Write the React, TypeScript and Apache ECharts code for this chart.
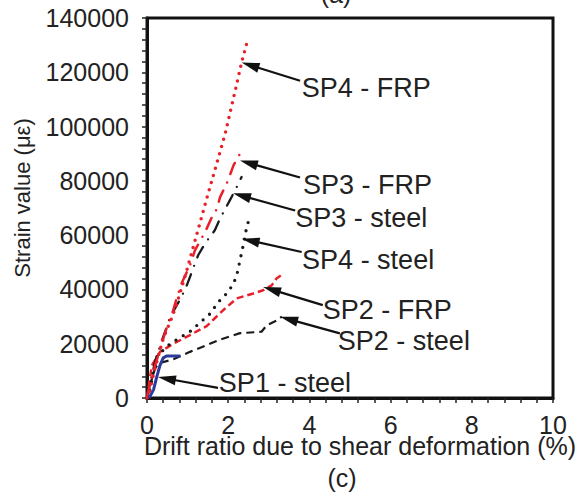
import React, { useEffect, useRef } from "react";
import * as echarts from "echarts";

const FONT = '"Liberation Sans", Arial, Helvetica, sans-serif';

// Axis ticks
const xTicks = [0, 2, 4, 6, 8, 10];
const yTicks = [0, 20000, 40000, 60000, 80000, 100000, 120000, 140000];

// Series data: [drift ratio (%), strain (με)]
const sp4Frp: number[][] = [
  [0, 0], [0.07, 3000], [0.2, 11000], [0.4, 22000], [0.61, 29500], [0.73, 34500],
  [0.98, 47000], [1.22, 60000], [1.5, 75000], [1.92, 97000], [2.2, 115000],
  [2.33, 123600], [2.49, 132500],
];
const sp3Frp: number[][] = [
  [0, 0], [0.05, 4000], [0.2, 12000], [0.49, 26200], [0.61, 30500], [0.73, 36700],
  [0.85, 42200], [1.06, 48900], [1.18, 54400], [1.43, 61100], [1.59, 66400],
  [1.72, 69700], [1.8, 74000], [1.96, 78900], [2.04, 82000], [2.13, 85700], [2.33, 91000],
];
const sp3Steel: number[][] = [
  [0, 0], [0.1, 7000], [0.2, 13500], [0.35, 20500], [0.49, 26200], [0.57, 29900],
  [0.85, 37200], [0.98, 41500], [1.26, 52600], [1.43, 56900], [1.67, 61800],
  [1.8, 66100], [2.04, 72800], [2.21, 77700], [2.33, 81400],
];
const sp4Steel: number[][] = [
  [0, 0], [0.07, 3000], [0.15, 9000], [0.25, 15500], [0.57, 20000], [1.06, 24500],
  [1.55, 31000], [1.76, 35400], [2.0, 39100], [2.13, 42200], [2.21, 45200],
  [2.29, 50700], [2.41, 59000], [2.46, 63600], [2.54, 66400],
];
const sp2Frp: number[][] = [
  [0, 0], [0.05, 5000], [0.12, 12000], [0.32, 17000], [0.65, 20000], [1.06, 23200],
  [1.47, 26500], [1.88, 32400], [2.21, 36700], [2.62, 38500], [2.86, 39700],
  [3.07, 41500], [3.19, 44000], [3.36, 45800],
];
const sp2Steel: number[][] = [
  [0, 0], [0.1, 6000], [0.2, 11000], [0.3, 12800], [0.65, 14300], [1.06, 17000],
  [1.47, 19500], [1.8, 21500], [2.29, 23900], [2.82, 24400], [2.95, 26800],
  [3.19, 28500], [3.32, 30000],
];
const sp1Steel: number[][] = [
  [0.05, 0], [0.16, 3000], [0.24, 7800], [0.32, 12000], [0.4, 14800], [0.49, 15500], [0.82, 15500],
];

// Annotation labels, with arrow tip / tail and text anchor in data coordinates
const annLabels = ["SP4 - FRP", "SP3 - FRP", "SP3 - steel", "SP4 - steel", "SP2 - FRP", "SP2 - steel", "SP1 - steel"];
const annTips: number[][] = [
  [2.33, 123600], [2.29, 87500], [2.12, 75400], [2.33, 58700], [2.86, 40900], [3.28, 29900], [0.27, 7700],
];
const annTails: number[][] = [
  [3.77, 116900], [3.77, 81250], [3.65, 69100], [3.81, 53800], [4.33, 34200], [4.75, 23800], [1.75, 3700],
];
const annTexts: number[][] = [
  [3.81, 114300], [3.84, 78300], [3.65, 66200], [3.82, 50700], [4.33, 32400], [4.70, 21000], [1.77, 5500],
];

const RED = "#e8202a";
const BLACK = "#1a1a1a";
const BLUE = "#2b3a9c";

export default function App() {
  const ref = useRef<HTMLDivElement>(null);

  useEffect(() => {
    if (!ref.current) return;
    const chart = echarts.init(ref.current, undefined, { renderer: "svg" });

    const line = (name: string, data: number[][], color: string, width: number, type: any, cap: any = "butt") => ({
      name,
      type: "line",
      data,
      showSymbol: false,
      symbol: "none",
      smooth: false,
      lineStyle: { color, width, type, cap, join: "round" },
      z: 3,
    });

    const axisLabelStyle = {
      color: "#222",
      fontSize: 25,
      fontFamily: FONT,
      formatter: (v: number) => String(v),
    };

    chart.setOption({
      animation: false,
      backgroundColor: "#fff",
      grid: {
        left: 147, right: 23, top: 18, bottom: 96,
        show: true, borderColor: "#111", borderWidth: 3, backgroundColor: "transparent",
      },
      xAxis: {
        type: "value",
        min: xTicks[0],
        max: xTicks[xTicks.length - 1],
        interval: xTicks[1] - xTicks[0],
        axisLine: { show: true, onZero: false, lineStyle: { color: "#111", width: 3 } },
        axisTick: { show: true, inside: false, length: 5, lineStyle: { color: "#222", width: 1.5 } },
        minorTick: { show: true, splitNumber: 5, length: 5, lineStyle: { color: "#222", width: 1.5 } },
        splitLine: { show: false },
        axisLabel: { ...axisLabelStyle, margin: 14 },
      },
      yAxis: {
        type: "value",
        min: yTicks[0],
        max: yTicks[yTicks.length - 1],
        interval: yTicks[1] - yTicks[0],
        axisLine: { show: true, onZero: false, lineStyle: { color: "#111", width: 3 } },
        axisTick: { show: true, inside: false, length: 5, lineStyle: { color: "#222", width: 1.5 } },
        minorTick: { show: true, splitNumber: 5, length: 5, lineStyle: { color: "#222", width: 1.5 } },
        splitLine: { show: false },
        axisLabel: { ...axisLabelStyle, margin: 18 },
      },
      series: [
        line("SP2 - steel", sp2Steel, BLACK, 2.2, [8, 5]),
        line("SP2 - FRP", sp2Frp, RED, 2.5, [7, 4]),
        line("SP4 - steel", sp4Steel, BLACK, 3.3, [0, 8.5], "round"),
        line("SP3 - steel", sp3Steel, BLACK, 2.3, [12, 9, 0, 9], "round"),
        line("SP3 - FRP", sp3Frp, RED, 2.5, [12, 9, 0, 9], "round"),
        line("SP4 - FRP", sp4Frp, RED, 3.5, [0, 7.5], "round"),
        line("SP1 - steel", sp1Steel, BLUE, 3, "solid"),
      ],
    });

    const toPx = (p: number[]) => chart.convertToPixel({ gridIndex: 0 }, p) as number[];
    const graphics: any[] = [];
    annLabels.forEach((label, i) => {
      const tip = toPx(annTips[i]);
      const tail = toPx(annTails[i]);
      const tp = toPx(annTexts[i]);
      const dx = tip[0] - tail[0];
      const dy = tip[1] - tail[1];
      const len = Math.sqrt(dx * dx + dy * dy) || 1;
      const ux = dx / len, uy = dy / len;
      const px = -uy, py = ux;
      const headLen = 18, halfW = 5;
      const bx = tip[0] - ux * headLen, by = tip[1] - uy * headLen;
      graphics.push({
        type: "line",
        shape: { x1: tail[0], y1: tail[1], x2: bx + ux * 3, y2: by + uy * 3 },
        style: { stroke: "#111", lineWidth: 2.2 },
        z: 10,
      });
      graphics.push({
        type: "polygon",
        shape: { points: [[tip[0], tip[1]], [bx + px * halfW, by + py * halfW], [bx - px * halfW, by - py * halfW]] },
        style: { fill: "#111" },
        z: 10,
      });
      graphics.push({
        type: "text",
        x: tp[0], y: tp[1],
        style: { text: label, fontSize: 27, fontFamily: FONT, fill: "#222", align: "left", verticalAlign: "middle" },
        z: 10,
      });
    });

    graphics.push(
      {
        type: "text", x: 22, y: 198, rotation: Math.PI / 2,
        style: { text: "Strain value (με)", fontSize: 22, fontFamily: FONT, fill: "#222", align: "center", verticalAlign: "middle" },
      },
      {
        type: "text", x: 360, y: 446,
        style: { text: "Drift ratio due to shear deformation (%)", fontSize: 25, fontFamily: FONT, fill: "#222", align: "center", verticalAlign: "middle" },
      },
      {
        type: "text", x: 342, y: 478,
        style: { text: "(c)", fontSize: 25, fontFamily: FONT, fill: "#222", align: "center", verticalAlign: "middle" },
      },
      {
        type: "text", x: 336, y: -6,
        style: { text: "(a)", fontSize: 25, fontFamily: FONT, fill: "#222", align: "center", verticalAlign: "middle" },
      }
    );

    chart.setOption({ graphic: graphics });

    return () => chart.dispose();
  }, []);

  return <div ref={ref} style={{ position: "absolute", left: 0, top: 0, width: 576, height: 494 }} />;
}
